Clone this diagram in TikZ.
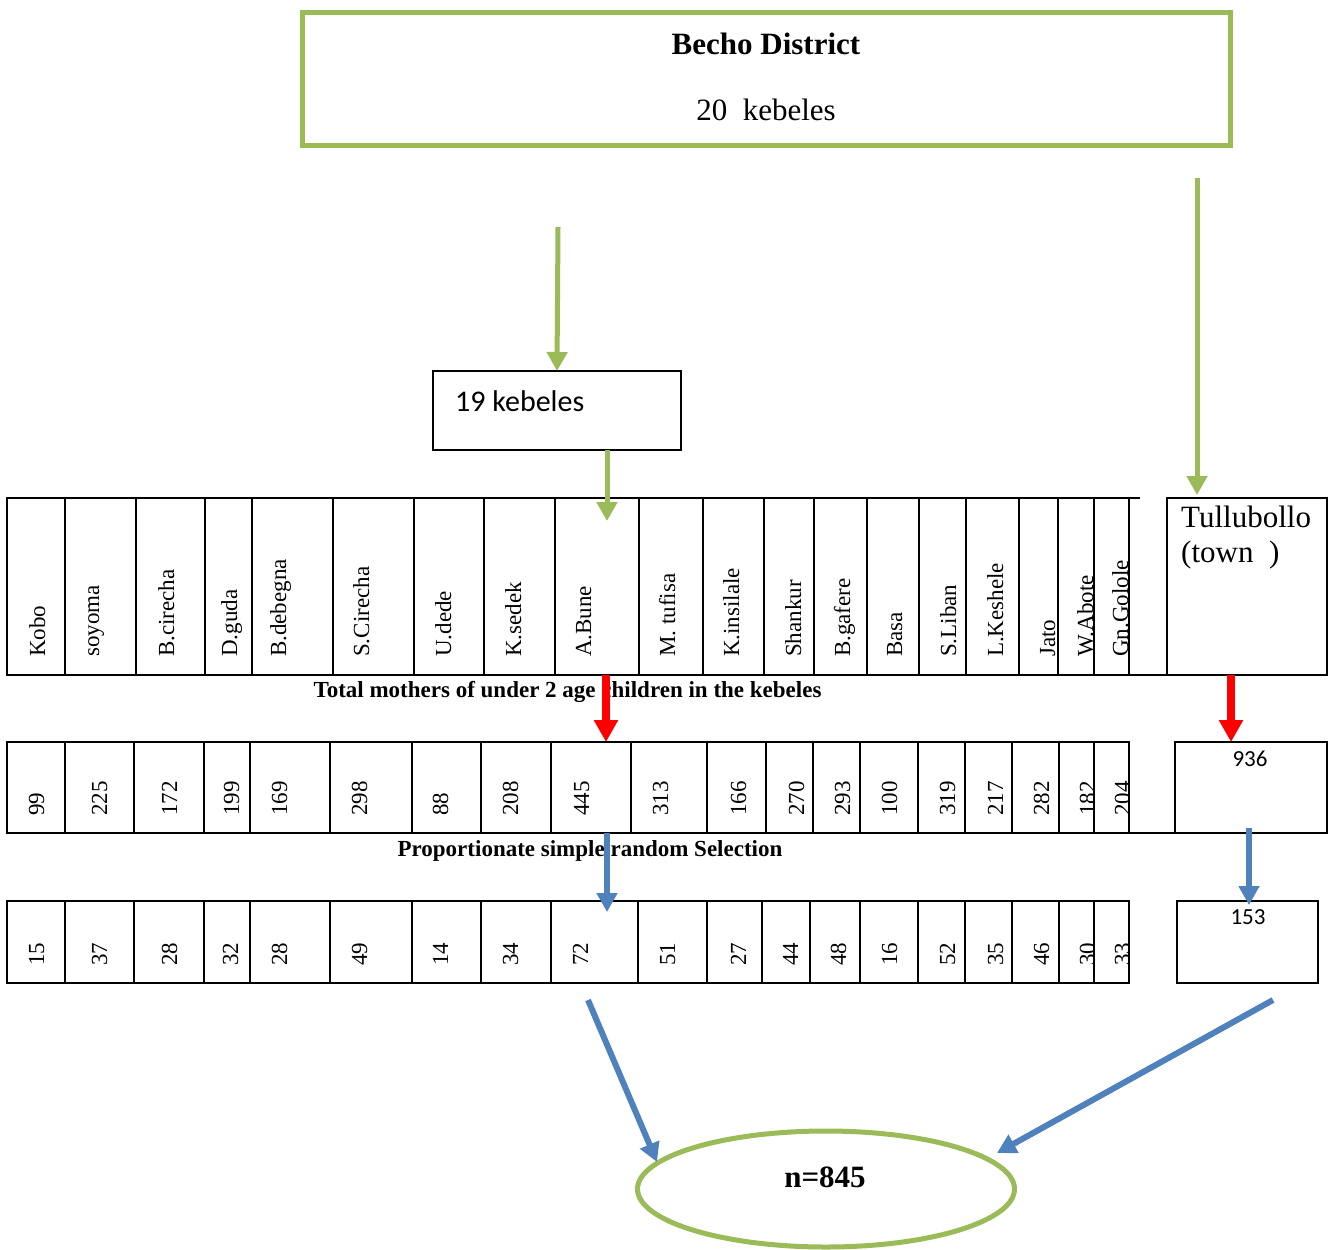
\documentclass[tikz,border=0pt]{standalone}
\usepackage{fontspec}
\setmainfont{Liberation Serif}
\newfontfamily\calib{Carlito}
\usetikzlibrary{arrows.meta,shapes.geometric}
\definecolor{ogreen}{HTML}{9BBB59}
\definecolor{oblue}{HTML}{4F81BD}
\definecolor{ored}{HTML}{FF0000}
\begin{document}
\begin{tikzpicture}[x=1pt,y=-1pt,
  grid/.style={line width=1.8pt, draw=black},
  vtext/.style={rotate=90, anchor=base west, inner sep=0pt, font=\fontsize{23}{27}\selectfont},
  plainbox/.style={draw=black, line width=1.8pt, inner sep=0pt, outer sep=0pt},
  garrow/.style={draw=ogreen, line width=5pt, -{Triangle[length=19pt,width=20pt]}},
  rarrow/.style={draw=ored, line width=8pt, -{Triangle[length=22pt,width=23pt]}},
  barrow/.style={draw=oblue, line width=6pt, -{Triangle[length=19pt,width=20pt]}},
  bigtext/.style={font=\fontsize{31}{37}\selectfont, inner sep=0pt},
  captext/.style={font=\fontsize{23}{27}\selectfont\bfseries, inner sep=0pt, anchor=base}]
\useasboundingbox (0,0) rectangle (1333,1250);

% top box
\node[draw=ogreen, line width=5pt, minimum width=928pt, minimum height=133pt, inner sep=0pt] (becho) at (766.5,79) {};
\node[bigtext, font=\fontsize{31}{37}\selectfont\bfseries, anchor=base] (title) at (766,54) {Becho District};
\node[bigtext, anchor=base] (sub) at (766,120) {20~~kebeles};

% 19 kebeles
\node[draw=black, line width=1.5pt, minimum width=248pt, minimum height=79pt, inner sep=0pt, outer sep=0pt] (k19) at (557,410.5) {};
\node[anchor=base west, inner sep=0pt, font=\calib\fontsize{30}{36}\selectfont] (k19t) at (455,411) {19 kebeles};

% Tullubollo column
\node[plainbox, minimum width=160pt, minimum height=177pt] (tulbox) at (1247,586.5) {};
\node[bigtext, anchor=base west] (tul1) at (1181,527) {Tullubollo};
\node[bigtext, anchor=base west] (tul2) at (1181,562) {(town\ \ )};
\node[plainbox, minimum width=152pt, minimum height=91pt] (b936) at (1251,787.5) {};
\node[anchor=base, inner sep=0pt, font=\calib\fontsize{23}{27}\selectfont] (t936) at (1250,766) {936};
\node[plainbox, minimum width=141pt, minimum height=82pt] (b153) at (1247.5,942) {};
\node[anchor=base, inner sep=0pt, font=\calib\fontsize{23}{27}\selectfont] (t153) at (1248,924) {153};

% row 1: kebele names
\foreach \l/\r/\b/\t [count=\i] in {7/65/45/Kobo, 65/136/99/soyoma, 136/205/174/B.cirecha, 205/252/237/D.guda, 252/333/286/B.debegna, 333/414/369/S.Cirecha, 414/484/451/U.dede, 484/555/521/K.sedek, 555/639/591/A.Bune, 639/703/675/M. tufisa, 703/764/739/K.insilale, 764/814/801/Shankur, 814/867/850/B.gafere, 867/919/902/Basa, 919/966/956/S.Liban, 966/1019/1003/L.Keshele, 1019/1058/1055/Jato, 1058/1094/1093/W.Abote, 1094/1129/1128/Gn.Golole}{
  \begin{scope}
    \clip (\l,498) rectangle (\r,675);
    \node[vtext] (na\i) at (\b,657) {\t};
  \end{scope}
  \draw[grid] (\l,498) rectangle (\r,675);
}
\draw[grid] (1129,675) -- (tulbox.south west);
\draw[grid] (1129,498) -- (1140,498);

% row 2: totals
\foreach \l/\r/\b/\t [count=\i] in {7/65/44/99, 65/134/107/225, 134/204/177/172, 204/250/239/199, 250/330/287/169, 330/412/367/298, 412/481/448/88, 481/551/518/208, 551/631/589/445, 631/707/668/313, 707/766/746/166, 766/813/804/270, 813/860/850/293, 860/918/897/100, 918/965/955/319, 965/1012/1003/217, 1012/1059/1049/282, 1059/1094/1095/182, 1094/1129/1130/204}{
  \begin{scope}
    \clip (\l,742) rectangle (\r,833);
    \node[vtext] (nb\i) at (\b,816) {\t};
  \end{scope}
  \draw[grid] (\l,742) rectangle (\r,833);
}
\draw[grid] (1129,833) -- (b936.south west);

% row 3: samples
\foreach \l/\r/\b/\t [count=\i] in {7/65/44/15, 65/134/107/37, 134/204/177/28, 204/250/238/32, 250/330/287/28, 330/412/367/49, 412/481/448/14, 481/551/518/34, 551/638/588/72, 638/707/675/51, 707/762/746/27, 762/810/798/44, 810/860/846/48, 860/918/897/16, 918/965/955/52, 965/1012/1003/35, 1012/1059/1049/46, 1059/1094/1095/30, 1094/1129/1130/33}{
  \begin{scope}
    \clip (\l,901) rectangle (\r,983);
    \node[vtext] (nc\i) at (\b,966) {\t};
  \end{scope}
  \draw[grid] (\l,901) rectangle (\r,983);
}

% captions
\node[captext] (cap1) at (567.5,697) {Total mothers of under 2 age children in the kebeles};
\node[captext] (cap2) at (590,856) {Proportionate simple random Selection};

% final ellipse
\node[ellipse, draw=ogreen, line width=5pt, minimum width=377pt, minimum height=116pt, inner sep=0pt] (ell) at (826,1189) {};
\node[bigtext, font=\fontsize{31}{37}\selectfont\bfseries, anchor=base] (ntxt) at (825,1187) {n=845};

% coordinates for connector ends
\coordinate (g1s) at (558,227);
\coordinate (g2s) at (1197,178);
\coordinate (g3e) at (607,521);
\coordinate (r1s) at (606,675);
\coordinate (r1e) at (606,742);
\coordinate (r2) at (1231,675);
\coordinate (b1s) at (607,833);
\coordinate (b1e) at (607,912);
\coordinate (b2s) at (1249,828);
\coordinate (b2e) at (1249,905);
\coordinate (b3s) at (588,1000);
\coordinate (b3e) at (657,1162);
\coordinate (b4s) at (1273,1000);
\coordinate (b4e) at (997,1153);

% connectors
\draw[garrow] (g1s) -- (k19.north);
\draw[garrow, shorten >=3pt] (g2s) -- (g2s |- tulbox.north);
\draw[garrow] (g3e |- k19.south) -- (g3e);
\draw[rarrow] (r1s) -- (r1e);
\draw[rarrow] (r2 |- tulbox.south) -- (r2 |- b936.north);
\draw[barrow] (b1s) -- (b1e);
\draw[barrow] (b2s) -- (b2e);
\draw[barrow] (b3s) -- (b3e);
\draw[barrow] (b4s) -- (b4e);
\end{tikzpicture}
\end{document}
